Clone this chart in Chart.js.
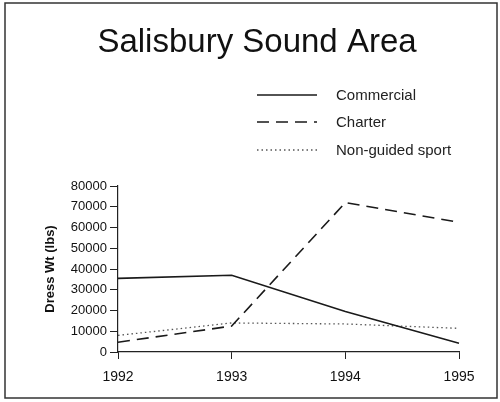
<!DOCTYPE html>
<html>
<head>
<meta charset="utf-8">
<script src="https://cdn.jsdelivr.net/npm/chart.js@4/dist/chart.umd.min.js"></script>
<style>
  html, body { margin: 0; padding: 0; background: #fff; }
  #wrap { width: 500px; height: 402px; position: relative; }
</style>
</head>
<body>
<div id="wrap"><canvas id="c" width="500" height="402"></canvas></div>
<script>
// ===== DATA =====
const years = ['1992', '1993', '1994', '1995'];
const commercial = [35500, 37000, 19500, 4200];
const charter = [4700, 12500, 72000, 62500];
const nonGuided = [8000, 14000, 13500, 11400];
const yTicks = [0, 10000, 20000, 30000, 40000, 50000, 60000, 70000, 80000];

const FONT = "'Liberation Sans', Arial, Helvetica, sans-serif";

// title, legend and scan border drawn on top
const decor = {
  id: 'decor',
  afterDraw(chart) {
    const ctx = chart.ctx;
    ctx.save();
    // border
    ctx.strokeStyle = '#333';
    ctx.lineWidth = 1.5;
    ctx.strokeRect(5, 3, 492, 395);
    // title
    ctx.fillStyle = '#111';
    ctx.font = '33px ' + FONT;
    ctx.textAlign = 'center';
    ctx.textBaseline = 'alphabetic';
    ctx.fillText('Salisbury Sound Area', 257, 52);
    // legend
    const rows = [95, 122, 150];
    ctx.font = '15px ' + FONT;
    ctx.textAlign = 'left';
    ctx.textBaseline = 'middle';
    chart.data.datasets.forEach((ds, i) => {
      const y = rows[i];
      ctx.strokeStyle = ds.borderColor;
      ctx.lineWidth = ds.borderWidth;
      ctx.setLineDash(ds.borderDash || []);
      ctx.beginPath(); ctx.moveTo(257, y); ctx.lineTo(317, y); ctx.stroke();
      ctx.setLineDash([]);
      ctx.fillStyle = '#222';
      ctx.fillText(ds.label, 336, y + 1);
    });
    ctx.restore();
  }
};

new Chart(document.getElementById('c'), {
  type: 'line',
  data: {
    labels: years,
    datasets: [
      { label: 'Commercial', data: commercial, borderColor: '#1a1a1a', borderWidth: 1.6, borderDash: [] },
      { label: 'Charter', data: charter, borderColor: '#1a1a1a', borderWidth: 1.6, borderDash: [12, 7] },
      { label: 'Non-guided sport', data: nonGuided, borderColor: '#555', borderWidth: 1.3, borderDash: [1.5, 3] }
    ]
  },
  options: {
    responsive: false,
    animation: false,
    devicePixelRatio: 1,
    layout: { padding: { left: 40, right: 41, top: 186, bottom: 0 } },
    elements: { point: { radius: 0 }, line: { tension: 0 } },
    plugins: { legend: { display: false }, title: { display: false }, tooltip: { enabled: false } },
    scales: {
      x: {
        offset: false,
        grid: { drawOnChartArea: false, drawTicks: true, tickLength: 7, color: '#222' },
        border: { color: '#222', width: 1.2 },
        ticks: { color: '#111', font: { family: FONT, size: 14 }, padding: 10, maxRotation: 0 },
        afterFit(s) { s.height = 50; }
      },
      y: {
        min: 0, max: 80000,
        afterBuildTicks(s) { s.ticks = yTicks.map(v => ({ value: v })); },
        grid: { drawOnChartArea: false, drawTicks: true, tickLength: 8, color: '#222' },
        border: { color: '#222', width: 1.2 },
        ticks: { color: '#111', font: { family: FONT, size: 13 }, padding: 3, callback: v => String(v) },
        title: { display: true, text: 'Dress Wt (lbs)', color: '#111', font: { family: FONT, size: 13, weight: 'bold' }, padding: { top: 3, bottom: 0 } },
        afterFit(s) { s.width = 78; }
      }
    }
  },
  plugins: [decor]
});
</script>
</body>
</html>
